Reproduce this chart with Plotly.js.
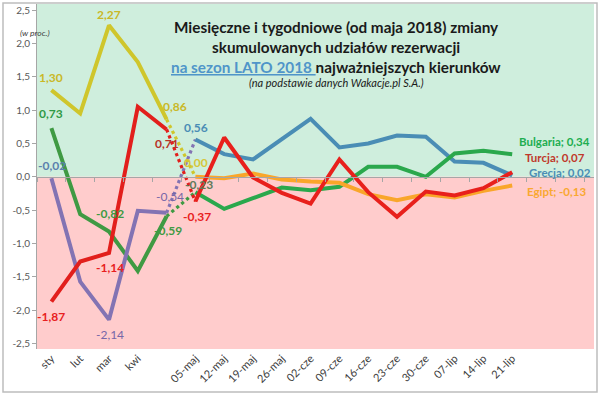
<!DOCTYPE html>
<html><head><meta charset="utf-8">
<script src="https://cdn.plot.ly/plotly-3.0.1.min.js"></script>
<style>html,body{margin:0;padding:0;background:#fff}#chart{width:600px;height:394px}</style>
</head><body><div id="chart"></div>
<script>
// ---- data ----
const categories = ["sty","lut","mar","kwi","","05-maj","12-maj","19-maj","26-maj","02-cze","09-cze","16-cze","23-cze","30-cze","07-lip","14-lip","21-lip"];
const yTicks = [-2.5,-2.0,-1.5,-1.0,-0.5,0.0,0.5,1.0,1.5,2.0,2.5];

const egiptMonthly    = [1.30, 0.95, 2.27, 1.72, 0.86];
const turcjaMonthly   = [-1.87, -1.27, -1.14, 1.05, 0.71];
const bulgariaMonthly = [0.73, -0.56, -0.82, -1.41, -0.59];
const grecjaMonthly   = [-0.02, -1.57, -2.14, -0.51, -0.54];

const egiptWeekly    = [0.00, -0.02, 0.05, -0.04, -0.07, -0.09, -0.26, -0.35, -0.26, -0.31, -0.21, -0.13];
const turcjaWeekly   = [-0.37, 0.59, -0.01, -0.24, -0.40, 0.26, -0.23, -0.60, -0.22, -0.28, -0.17, 0.07];
const bulgariaWeekly = [-0.23, -0.48, -0.32, -0.16, -0.20, -0.15, 0.15, 0.15, 0.00, 0.35, 0.39, 0.34];
const grecjaWeekly   = [0.56, 0.34, 0.26, 0.56, 0.87, 0.44, 0.50, 0.62, 0.60, 0.23, 0.21, 0.02];

const seriesNames = ["Egipt","Turcja","Bulgaria","Grecja"];

// ---- styling ----
const FONT = "Lato, 'Open Sans', sans-serif";
const C = {
  egM:"#cfc62c", egW:"#f9a62a",
  tuM:"#e21f1c", tuW:"#e8201c",
  buM:"#3f9a43", buW:"#2aa84c",
  grM:"#8373b3", grW:"#4a8db5"
};
const YMIN = -2.58, YMAX = 2.59;
const XMIN = -0.5, XMAX = 18.84;
const L = 37, T = 4, W = 600, H = 394, B = 45, R = 6;
const plotW = W - L - R, plotH = H - T - B;
const px2paperX = p => (p - L) / plotW;
const px2paperY = p => (H - B - p) / plotH;

const idx = categories.map((c,i)=>i);
const nM = egiptMonthly.length;
const xM = idx.slice(0, nM);
const xW = idx.slice(nM, nM + egiptWeekly.length);

function fmt(v){ return v.toFixed(2).replace('.', ','); }

const traces = [];
function addSeries(mVals, wVals, cM, cW){
  traces.push({x:xM, y:mVals, mode:'lines', line:{color:cM, width:4}, hoverinfo:'skip'});
  traces.push({x:[xM[nM-1], xW[0]], y:[mVals[nM-1], wVals[0]], mode:'lines', line:{color:cM, width:3.2, dash:'dot'}, hoverinfo:'skip'});
}
addSeries(egiptMonthly, egiptWeekly, C.egM, C.egW);
addSeries(bulgariaMonthly, bulgariaWeekly, C.buM, C.buW);
addSeries(grecjaMonthly, grecjaWeekly, C.grM, C.grW);
addSeries(turcjaMonthly, turcjaWeekly, C.tuM, C.tuW);
[[grecjaWeekly,C.grW],[bulgariaWeekly,C.buW],[egiptWeekly,C.egW],[turcjaWeekly,C.tuW]].forEach(([v,c])=>{
  traces.push({x:xW, y:v, mode:'lines', line:{color:c, width:4}, hoverinfo:'skip'});
});

// data labels: [values, index, xshift, yshift, color, bold]
const labelSpecs = [
  [egiptMonthly, 0, 0, 13, "#c9b826", true],
  [egiptMonthly, 2, 0, 11, "#c9b826", true],
  [egiptMonthly, 4, 8, 13, "#c9b826", true],
  [bulgariaMonthly, 0, 0, 15, "#2f9a45", true],
  [bulgariaMonthly, 2, 1, 18, "#3f9a43", true],
  [bulgariaMonthly, 4, 1, -14, "#3f9a43", true],
  [grecjaMonthly, 0, 1, 13, "#5b80ad", true],
  [grecjaMonthly, 2, 1, -15, "#7767a8", false],
  [grecjaMonthly, 4, 3, 16, "#7767a8", false],
  [turcjaMonthly, 0, 0, -15, "#e82020", true],
  [turcjaMonthly, 2, 1, -15, "#e82020", true],
  [turcjaMonthly, 4, 0, -14, "#b83226", true],
  [grecjaWeekly, 0, 1, 12, "#4a8db5", true],
  [egiptWeekly, 0, 1, 14, "#d6c63a", true],
  [bulgariaWeekly, 0, 4, 8, "#5f7a5a", true],
  [turcjaWeekly, 0, 2, -15, "#e82020", true]
];
const annotations = labelSpecs.map(([vals,i,xs,ys,col,bold])=>{
  return {x: (vals.length===nM ? xM[i] : xW[i]), y: vals[i], xref:'x', yref:'y', text: bold?'<b>'+fmt(vals[i])+'</b>':fmt(vals[i]),
    showarrow:false, xshift:xs, yshift:ys, font:{family:FONT, size:12, color:col}};
});

// end labels
const endSpecs = [
  ["Bulgaria", bulgariaWeekly, 5, 13, "#20ad50"],
  ["Turcja", turcjaWeekly, 11, 15, "#c0392b"],
  ["Grecja", grecjaWeekly, 15, 3, "#4a8db5"],
  ["Egipt", egiptWeekly, 13, -6, "#f9a830"]
];
endSpecs.forEach(([name, vals, xs, ys, col])=>{
  const last = vals.length-1;
  annotations.push({x:xW[last], y:vals[last], xref:'x', yref:'y', xanchor:'left', text:'<b>'+name+'; '+fmt(vals[last])+'</b>',
    showarrow:false, xshift:xs, yshift:ys, font:{family:FONT, size:11.5, color:col}});
});

// title lines
const titleLines = [
  ["<b>Miesięczne i tygodniowe (od maja 2018) zmiany</b>", 27, 15.3, "#1a1a1a"],
  ["<b>skumulowanych udziałów rezerwacji</b>", 47, 15.3, "#1a1a1a"],
  ["<b><span style='color:#4f95c9;text-decoration:underline'>na sezon LATO 2018 </span>najważniejszych kierunków</b>", 67, 15.3, "#1a1a1a"],
  ["<i>(na podstawie danych Wakacje.pl S.A.)</i>", 83, 11, "#1a1a1a"]
];
titleLines.forEach(([t, py, sz, col])=>{
  annotations.push({x:px2paperX(336), y:px2paperY(py), xref:'paper', yref:'paper', xanchor:'center', yanchor:'middle',
    text:t, showarrow:false, font:{family:FONT, size:sz, color:col}});
});
annotations.push({x:px2paperX(35), y:px2paperY(33), xref:'paper', yref:'paper', xanchor:'center', yanchor:'middle',
  text:'<i>(w proc.)</i>', showarrow:false, font:{family:FONT, size:8.5, color:'#404040'}});

const shapes = [
  {type:'rect', xref:'paper', yref:'y', x0:0, x1:1, y0:0, y1:YMAX, fillcolor:'#cfeedd', line:{width:0}, layer:'below'},
  {type:'rect', xref:'paper', yref:'y', x0:0, x1:1, y0:YMIN, y1:0, fillcolor:'#ffcccc', line:{width:0}, layer:'below'},
  {type:'rect', xref:'paper', yref:'paper', x0:px2paperX(3), x1:px2paperX(597), y0:px2paperY(392), y1:px2paperY(3),
    line:{color:'#bdbdbd', width:1.5}, fillcolor:'rgba(0,0,0,0)', layer:'above'}
];

const boundaryTicks = [];
for (let k = 0; k <= categories.length + 2; k++) boundaryTicks.push(k - 0.5);

const layout = {
  width:W, height:H, margin:{l:L, r:R, t:T, b:B, pad:0},
  paper_bgcolor:'#ffffff', plot_bgcolor:'rgba(0,0,0,0)',
  showlegend:false, font:{family:FONT},
  xaxis:{range:[XMIN,XMAX], tickmode:'array', tickvals:idx, ticktext:categories, tickangle:-45,
    showgrid:false, zeroline:false, showline:false, ticks:'', tickfont:{family:FONT, size:11, color:'#404040'}},
  xaxis2:{overlaying:'x', anchor:'free', position:(0-YMIN)/(YMAX-YMIN), range:[XMIN,XMAX], tickmode:'array', tickvals:boundaryTicks,
    showticklabels:false, ticks:'outside', ticklen:4, tickcolor:'#a6a6a6', tickwidth:1, showline:true, linecolor:'#a6a6a6', linewidth:1, showgrid:false, zeroline:false},
  yaxis:{range:[YMIN,YMAX], tickmode:'array', tickvals:yTicks, ticktext:yTicks.map(v=>v.toFixed(1).replace('.',',')),
    showgrid:false, zeroline:false, showline:true, linecolor:'#a6a6a6', linewidth:1, ticks:'outside', ticklen:4, tickcolor:'#a6a6a6',
    tickfont:{family:FONT, size:10, color:'#595959'}},
  annotations:annotations, shapes:shapes
};
// invisible helper trace so the zero-line axis (xaxis2) renders
traces.push({x:[XMIN], y:[0], xaxis:'x2', mode:'markers', marker:{opacity:0}, hoverinfo:'skip'});

Plotly.newPlot('chart', traces, layout, {staticPlot:true, displayModeBar:false});
</script></body></html>
